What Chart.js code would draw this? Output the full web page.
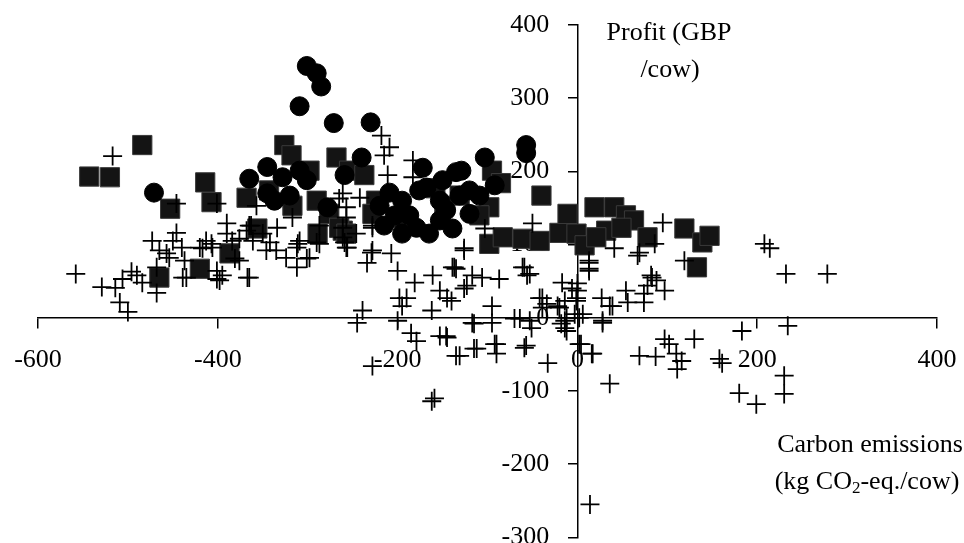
<!DOCTYPE html>
<html>
<head>
<meta charset="utf-8">
<script src="https://cdn.jsdelivr.net/npm/chart.js@4.4.1/dist/chart.umd.min.js"></script>
<style>
  html, body { margin: 0; background: #fff; overflow: hidden; }
  /* um pouco mais alto que a janela: o rótulo -300 fica cortado como no original */
  #wrap { width: 964px; height: 552px; }
</style>
</head>
<body>
<div id="wrap"><canvas id="grafico"></canvas></div>
<script>
// Dados: emissões de carbono (kg CO2-eq./vaca) vs lucro (GBP/vaca)
const xTicks = [-600, -400, -200, 0, 200, 400];
const yTicks = [-300, -200, -100, 0, 100, 200, 300, 400];

// Série de cruzes
const crossPoints = [
  [-517,221],[-558,60],[-529,42],[-514,41],[-509,21],[-500,8],[-506,53],[-496,63],[-490,58],[-484,48],
  [-473,105],[-465,92],[-468,69],[-457,88],[-450,105],[-446,116],[-440,96],[-435,55],[-437,78],[-468,34],
  [-420,96],[-413,105],[-406,96],[-401,53],[-395,58],[-390,129],[-390,115],[-384,105],[-368,119],[-363,126],
  [-361,105],[-367,55],[-376,78],[-446,156],[-401,156],[-357,153],[-454,82],[-439,55],[-401,64],[-398,51],
  [-407,101],[-417,95],[-376,108],[-381,81],[-365,55],[-350,115],[-342,103],[-334,123],[-317,137],[-346,92],
  [-335,92],[-324,82],[-312,96],[-312,69],[-301,81],[-309,105],[-298,82],[-287,101],[-265,163],[-261,123],
  [-256,96],[-259,103],[-245,-7],[-287,126],[-228,126],[-229,89],[-234,75],[-207,88],[-200,64],[-181,48],
  [-198,27],[-195,16],[-161,58],[-153,37],[-145,27],[-140,23],[-162,10],[-139,69],[-239,10],[-200,-4],
  [-185,-21],[-179,-32],[-153,-25],[-145,-27],[-228,-66],[-159,-110],[-135,-52],[-126,92],[-135,67],[-117,58],
  [-106,55],[-87,53],[-95,16],[-126,40],[-190,27],[-115,-8],[-95,-7],[-131,-52],[-112,-42],[-90,-36],
  [-90,-49],[-57,-38],[-33,-62],[-59,69],[-53,60],[-50,129],[-103,122],[-70,-1],[-53,-4],[-51,-14],
  [-39,27],[-39,14],[-17,48],[0,37],[0,47],[-1,23],[6,5],[2,0],[-3,5],[-20,14],
  [-18,-8],[-12,-18],[2,-36],[17,-49],[28,-4],[27,27],[39,16],[54,37],[56,21],[74,33],
  [74,21],[83,55],[69,-52],[69,89],[41,95],[13,75],[13,64],[95,130],[86,101],[67,85],
  [119,78],[82,58],[88,51],[97,37],[-14,23],[-14,-4],[-14,-14],[28,-7],[4,-36],[97,-29],
  [102,-36],[130,-29],[110,-49],[116,-59],[111,-70],[158,-56],[161,-62],[183,-18],[234,-11],[208,101],
  [214,95],[232,60],[278,60],[36,-90],[87,-53],[180,-103],[199,-118],[230,-79],[230,-104],[-162,-114],
  [14,-255],[-218,249],[-209,233],[-215,222],[-183,215],[-211,195],[-183,192],[-228,123],[-228,92],[-261,170],
  [-242,164],[-257,151],[-257,137],[-261,110],[-257,96],[-365,126],[-311,101],[-290,103],[-246,115],[-137,69],
  [-123,44],[-117,-7],[-146,-25],[-115,-42],[-92,-36],[-59,-41],[-64,-1],[-61,69],[-56,58],[-42,27],
  [-34,19],[-22,16],[-6,40],[-1,27],[-12,0],[16,-49],[13,67],[13,78],[36,16],[78,44],
  [-126,95]
];

// Série de quadrados
const squarePoints = [
  [-543,193],[-520,192],[-484,236],[-453,149],[-414,185],[-407,158],[-368,164],[-465,55],[-420,67],[-387,88],
  [-326,236],[-318,222],[-290,160],[-276,142],[-261,119],[-268,219],[-254,201],[-265,123],[-224,160],[-228,142],
  [-201,137],[-298,201],[-343,174],[-95,201],[-85,184],[-98,151],[-40,167],[-98,101],[-83,110],[-61,108],
  [-42,105],[-20,116],[-11,142],[-1,115],[8,99],[19,151],[41,151],[54,140],[63,133],[32,119],
  [21,110],[49,123],[78,110],[119,122],[139,103],[147,112],[133,69],[-237,195],[-131,167],[-148,153],
  [-109,140],[-356,122],[-257,115],[-289,115],[-158,177],[-317,153]
];

// Série de círculos
const circlePoints = [
  [-471,171],[-309,289],[-301,344],[-290,334],[-285,316],[-271,266],[-230,267],[-240,219],[-365,190],[-345,206],
  [-345,170],[-328,192],[-309,201],[-301,188],[-278,151],[-57,236],[-57,225],[-103,219],[-129,201],[-150,188],
  [-172,205],[-209,171],[-195,160],[-195,115],[-179,123],[-168,178],[-153,160],[-146,147],[-135,199],[-153,133],
  [-165,115],[-139,122],[-120,142],[-109,167],[-187,140],[-203,140],[-220,153],[-320,167],[-337,160],[-120,174],
  [-92,181],[-215,126],[-176,174],[-131,167],[-259,195]
];

const toXY = arr => arr.map(p => ({ x: p[0], y: p[1] }));
const FONT = 'Liberation Serif';

// Zera o espaço que as escalas reservam: os eixos cruzam-se no zero
function semPadding(s) {
  s.paddingTop = 0;
  s.paddingBottom = 0;
  s.paddingLeft = 0;
  s.paddingRight = 0;
}

// Títulos dos eixos desenhados junto aos eixos (como no original)
const axisTitles = {
  id: 'axisTitles',
  afterDraw(chart) {
    const ctx = chart.ctx;
    ctx.save();
    ctx.fillStyle = '#000';
    const big = '26px "' + FONT + '"', small = '17px "' + FONT + '"';
    ctx.font = big;
    ctx.textAlign = 'center';
    ctx.textBaseline = 'middle';
    ctx.fillText('Profit (GBP', 669, 33);
    ctx.fillText('/cow)', 670, 70);
    ctx.fillText('Carbon emissions', 870, 445);

    // segunda linha com o "2" em índice
    const a = '(kg CO', b = '2', c = '-eq./cow)';
    ctx.font = big;
    const wa = ctx.measureText(a).width, wc = ctx.measureText(c).width;
    ctx.font = small;
    const wb = ctx.measureText(b).width;
    let x = 867 - (wa + wb + wc) / 2;
    ctx.textAlign = 'left';
    ctx.font = big;
    ctx.fillText(a, x, 482);
    ctx.font = small;
    ctx.fillText(b, x + wa, 489);
    ctx.font = big;
    ctx.fillText(c, x + wa + wb, 482);
    ctx.restore();
  }
};

const ctx = document.getElementById('grafico').getContext('2d');
new Chart(ctx, {
  type: 'scatter',
  data: {
    datasets: [
      {
        label: 'cross',
        data: toXY(crossPoints),
        pointStyle: 'cross',
        pointRadius: 9.5,
        borderColor: '#000',
        borderWidth: 1.8,
        order: 0
      },
      {
        label: 'circle',
        data: toXY(circlePoints),
        pointStyle: 'circle',
        pointRadius: 9.5,
        backgroundColor: '#000',
        borderColor: '#000',
        borderWidth: 1,
        order: 1
      },
      {
        label: 'square',
        data: toXY(squarePoints),
        pointStyle: 'rect',
        pointRadius: 13.6,
        backgroundColor: '#141414',
        borderColor: '#3a3a3a',
        borderWidth: 1,
        order: 2
      }
    ]
  },
  options: {
    responsive: true,
    maintainAspectRatio: false,
    animation: false,
    events: [],
    layout: { padding: { left: 38, right: 27, top: 25, bottom: 7 } },
    plugins: {
      legend: { display: false },
      tooltip: { enabled: false }
    },
    scales: {
      x: {
        type: 'linear',
        position: { y: 0 },
        min: -600,
        max: 400,
        afterBuildTicks: s => { s.ticks = xTicks.map(v => ({ value: v })); },
        afterFit: s => { s.height = 0; semPadding(s); },
        border: { display: true, color: '#000', width: 1.5 },
        grid: { drawOnChartArea: false, drawTicks: true, tickLength: 10, color: '#000', lineWidth: 1.5 },
        ticks: { color: '#000', padding: 17, maxRotation: 0, font: { family: FONT, size: 26 } }
      },
      y: {
        type: 'linear',
        position: { x: 0 },
        min: -300,
        max: 400,
        afterBuildTicks: s => { s.ticks = yTicks.map(v => ({ value: v })); },
        afterFit: s => { s.width = 0; semPadding(s); },
        border: { display: true, color: '#000', width: 1.5 },
        grid: { drawOnChartArea: false, drawTicks: true, tickLength: 9, color: '#000', lineWidth: 1.5 },
        // o espaço no fim afasta o número do eixo
        ticks: {
          color: '#000',
          font: { family: FONT, size: 26 },
          callback: v => v + '\u2003\u200A'
        }
      }
    }
  },
  plugins: [axisTitles]
});
</script>
</body>
</html>
